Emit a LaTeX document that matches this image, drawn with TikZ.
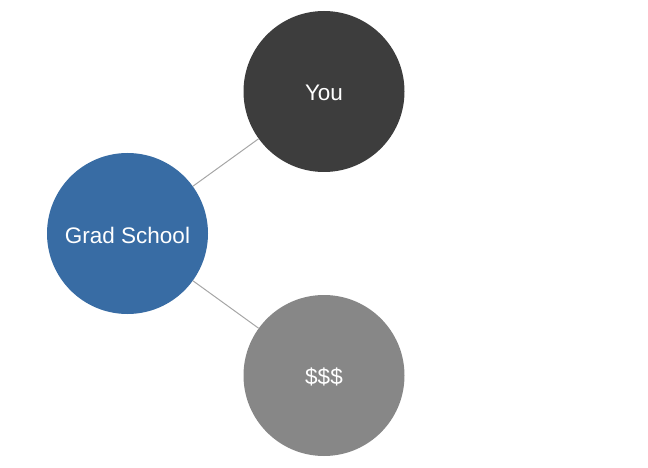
\documentclass[tikz,border=0pt]{standalone}
\usepackage{fontspec}
\setmainfont{Liberation Sans}
\definecolor{gradblue}{HTML}{386CA4}
\definecolor{youdark}{HTML}{3D3D3D}
\definecolor{moneygray}{HTML}{878787}
\definecolor{linkgray}{HTML}{A6A6A6}
\tikzset{
  bubble/.style={circle, minimum size=161pt, inner sep=0pt, text=white,
    font=\fontsize{22.5}{27}\selectfont},
  link/.style={draw=linkgray, line width=1pt}
}
\newcommand{\lowered}[1]{\raisebox{-1.5pt}[\height][\depth]{#1}}
\begin{document}
\begin{tikzpicture}[x=1pt,y=-1pt]
\useasboundingbox (0,0) rectangle (648,468);
\node[bubble, fill=gradblue] (grad) at (127.5,233.5) {\lowered{Grad School}};
\node[bubble, fill=youdark] (you) at (324,91.5) {\lowered{You}};
\node[bubble, fill=moneygray] (money) at (324,375.5) {\lowered{\$\$\$}};
\draw[link] (grad) -- (you);
\draw[link] (grad) -- (money);
\end{tikzpicture}
\end{document}
